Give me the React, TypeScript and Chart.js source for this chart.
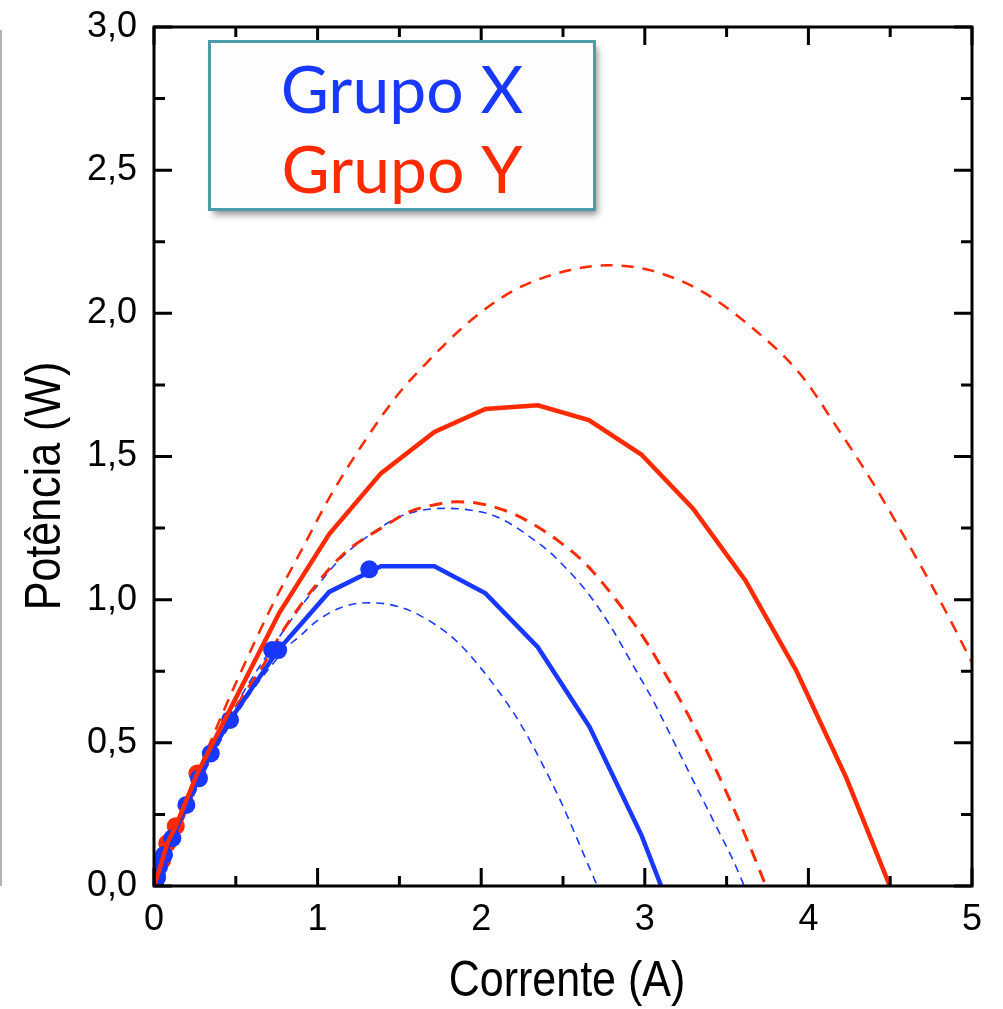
import React, { useEffect, useRef } from "react";
import { Chart, registerables } from "chart.js";

Chart.register(...registerables);

// ---- Data ----
// Grupo X measured curve (solid blue)
const blueLineI = [0, 0.061, 0.112, 0.198, 0.275, 0.347, 0.465, 0.759, 1.071, 1.387, 1.714, 2.026, 2.346, 2.662, 2.98, 3.1];
const blueLineP = [0, 0.108, 0.167, 0.283, 0.376, 0.463, 0.58, 0.824, 1.027, 1.117, 1.117, 1.022, 0.834, 0.556, 0.177, 0];
// Grupo X markers
const blueMarkI = [0.006, 0.018, 0.031, 0.061, 0.112, 0.198, 0.275, 0.347, 0.465, 0.722, 0.759, 1.316];
const blueMarkP = [0.007, 0.028, 0.067, 0.108, 0.167, 0.283, 0.376, 0.463, 0.58, 0.824, 0.824, 1.106];
// Grupo Y measured curve (solid red)
const redLineI = [0, 0.04, 0.081, 0.133, 0.265, 0.765, 1.071, 1.387, 1.714, 2.026, 2.346, 2.658, 2.979, 3.294, 3.614, 3.927, 4.233, 4.498];
const redLineP = [0, 0.07, 0.149, 0.209, 0.393, 0.953, 1.229, 1.441, 1.586, 1.666, 1.679, 1.627, 1.507, 1.319, 1.068, 0.751, 0.376, 0];
// Grupo Y markers
const redMarkI = [0.02, 0.05, 0.081, 0.133, 0.265];
const redMarkP = [0.035, 0.09, 0.149, 0.209, 0.393];
// Dashed curves
const redBigI = [0, 0.2, 0.367, 0.5, 0.714, 0.908, 1.081, 1.265, 1.479, 1.673, 1.938, 2.203, 2.499, 2.774, 3.029, 3.335, 3.662, 3.947, 4.172, 4.396, 4.621, 4.835, 5.0];
const redBigP = [0, 0.3, 0.533, 0.708, 0.97, 1.18, 1.365, 1.534, 1.708, 1.831, 1.976, 2.081, 2.145, 2.168, 2.151, 2.081, 1.947, 1.79, 1.604, 1.406, 1.185, 0.964, 0.78];
const redSmallI = [0, 0.3, 0.54, 0.663, 0.765, 0.908, 1.152, 1.418, 1.561, 1.703, 1.846, 1.977, 2.111, 2.214, 2.346, 2.479, 2.621, 2.744, 2.846, 2.948, 3.029, 3.111, 3.193, 3.274, 3.356, 3.438, 3.519, 3.58, 3.641, 3.702, 3.74];
const redSmallP = [0, 0.4, 0.661, 0.766, 0.87, 0.99, 1.156, 1.26, 1.307, 1.33, 1.342, 1.337, 1.318, 1.295, 1.254, 1.202, 1.135, 1.057, 0.983, 0.905, 0.835, 0.755, 0.673, 0.588, 0.497, 0.402, 0.302, 0.222, 0.14, 0.055, 0];
const blueBigI = [0, 0.3, 0.52, 0.684, 0.867, 1.01, 1.152, 1.377, 1.499, 1.642, 1.805, 1.928, 2.07, 2.193, 2.295, 2.417, 2.52, 2.621, 2.713, 2.805, 2.887, 2.968, 3.05, 3.132, 3.213, 3.294, 3.376, 3.458, 3.539, 3.608];
const blueBigP = [0, 0.4, 0.65, 0.8, 0.952, 1.057, 1.15, 1.249, 1.289, 1.313, 1.319, 1.313, 1.295, 1.26, 1.22, 1.167, 1.109, 1.045, 0.975, 0.894, 0.812, 0.731, 0.649, 0.556, 0.463, 0.37, 0.277, 0.184, 0.091, 0];
const blueSmallI = [0, 0.4, 0.806, 0.887, 0.99, 1.132, 1.296, 1.458, 1.622, 1.846, 1.999, 2.132, 2.234, 2.315, 2.397, 2.479, 2.56, 2.642, 2.71];
const blueSmallP = [0, 0.5, 0.83, 0.87, 0.923, 0.97, 0.989, 0.981, 0.946, 0.857, 0.76, 0.66, 0.572, 0.49, 0.4, 0.305, 0.2, 0.09, 0];

const legendLabels = ["Grupo X", "Grupo Y"];
const xTitle = "Corrente (A)";
const yTitle = "Potência (W)";

const BLUE = "#1838ff";
const RED = "#ff2a00";

const pts = (xs: number[], ys: number[]) => xs.map((x, i) => ({ x, y: ys[i] }));

const decorPlugin = {
  id: "decor",
  beforeDraw(chart: any) {
    const ctx = chart.ctx;
    ctx.save();
    ctx.fillStyle = "#ffffff";
    ctx.fillRect(0, 0, chart.width, chart.height);
    // thin grey edge line at far left (as in the reference crop)
    ctx.strokeStyle = "#9a9a9a";
    ctx.lineWidth = 1.5;
    ctx.beginPath();
    ctx.moveTo(1, 30);
    ctx.lineTo(1, 886);
    ctx.stroke();
    ctx.restore();
  },
  afterDraw(chart: any) {
    const ctx = chart.ctx;
    const { left, right, top, bottom } = chart.chartArea;
    const xs = chart.scales.x;
    const ys = chart.scales.y;
    ctx.save();
    ctx.strokeStyle = "#000";
    ctx.lineWidth = 3;
    ctx.lineCap = "butt";
    ctx.strokeRect(left, top, right - left, bottom - top);
    ctx.beginPath();
    for (let v = 0; v <= 5.0001; v += 0.5) {
      const px = xs.getPixelForValue(v);
      const len = Math.abs(v - Math.round(v)) < 1e-6 ? 18 : 10;
      ctx.moveTo(px, bottom);
      ctx.lineTo(px, bottom - len);
      ctx.moveTo(px, top);
      ctx.lineTo(px, top + len);
    }
    for (let v = 0; v <= 3.0001; v += 0.25) {
      const py = ys.getPixelForValue(v);
      const major = Math.abs(v * 2 - Math.round(v * 2)) < 1e-6;
      const len = major ? 18 : 11;
      ctx.moveTo(left, py);
      ctx.lineTo(left + len, py);
      ctx.moveTo(right, py);
      ctx.lineTo(right - len, py);
    }
    ctx.stroke();

    // axis titles
    ctx.fillStyle = "#000";
    ctx.font = '50px "Liberation Sans", Arial, sans-serif';
    ctx.textAlign = "center";
    ctx.textBaseline = "alphabetic";
    ctx.save();
    ctx.translate((left + right) / 2 + 4, 996);
    ctx.scale(0.86, 1);
    ctx.fillText(xTitle, 0, 0);
    ctx.restore();
    ctx.save();
    ctx.translate(60, 486);
    ctx.rotate(-Math.PI / 2);
    ctx.scale(0.86, 1);
    ctx.fillText(yTitle, 0, 0);
    ctx.restore();

    // legend box
    const bx = 209.5, by = 41.5, bw = 385, bh = 168;
    ctx.save();
    ctx.shadowColor = "rgba(0,0,0,0.45)";
    ctx.shadowBlur = 7;
    ctx.shadowOffsetX = 3;
    ctx.shadowOffsetY = 5;
    ctx.fillStyle = "#fdfdfd";
    ctx.fillRect(bx, by, bw, bh);
    ctx.restore();
    ctx.strokeStyle = "#4b9baa";
    ctx.lineWidth = 3;
    ctx.strokeRect(bx, by, bw, bh);
    ctx.font = '66px Lato, "Open Sans", sans-serif';
    ctx.textAlign = "center";
    ctx.fillStyle = BLUE;
    ctx.fillText(legendLabels[0], bx + bw / 2, 113);
    ctx.fillStyle = RED;
    ctx.fillText(legendLabels[1], bx + bw / 2, 193);
    ctx.restore();
  },
};

export default function App() {
  const canvasRef = useRef<HTMLCanvasElement | null>(null);

  useEffect(() => {
    document.body.style.margin = "0";
    const canvas = canvasRef.current;
    if (!canvas) return;
    const chart = new Chart(canvas, {
      type: "scatter",
      data: {
        datasets: [
          {
            label: "Grupo Y",
            data: pts(redLineI, redLineP),
            showLine: true,
            borderColor: RED,
            borderWidth: 4.5,
            pointRadius: 0,
            tension: 0,
          },
          {
            label: "Grupo X markers",
            data: pts(blueMarkI, blueMarkP),
            showLine: false,
            backgroundColor: BLUE,
            borderColor: BLUE,
            borderWidth: 0,
            pointRadius: 9,
          },
          {
            label: "Grupo X",
            data: pts(blueLineI, blueLineP),
            showLine: true,
            borderColor: BLUE,
            borderWidth: 4.5,
            pointRadius: 0,
            tension: 0,
          },
          {
            label: "Grupo Y markers",
            data: pts(redMarkI, redMarkP),
            showLine: false,
            backgroundColor: RED,
            borderColor: RED,
            borderWidth: 0,
            pointRadius: 9,
          },
          {
            label: "Y fit big",
            data: pts(redBigI, redBigP),
            showLine: true,
            borderColor: RED,
            borderWidth: 2.5,
            borderDash: [12, 9],
            pointRadius: 0,
            cubicInterpolationMode: "monotone",
          },
          {
            label: "Y fit small",
            data: pts(redSmallI, redSmallP),
            showLine: true,
            borderColor: RED,
            borderWidth: 3,
            borderDash: [13, 9],
            pointRadius: 0,
            cubicInterpolationMode: "monotone",
          },
          {
            label: "X fit big",
            data: pts(blueBigI, blueBigP),
            showLine: true,
            borderColor: BLUE,
            borderWidth: 1.6,
            borderDash: [8, 6],
            pointRadius: 0,
            cubicInterpolationMode: "monotone",
          },
          {
            label: "X fit small",
            data: pts(blueSmallI, blueSmallP),
            showLine: true,
            borderColor: BLUE,
            borderWidth: 1.6,
            borderDash: [8, 6],
            pointRadius: 0,
            cubicInterpolationMode: "monotone",
          },
        ],
      },
      options: {
        animation: false,
        responsive: false,
        devicePixelRatio: 1,
        layout: { padding: { top: 27, right: 31, left: 0, bottom: 0 } },
        plugins: { legend: { display: false }, tooltip: { enabled: false } },
        scales: {
          x: {
            type: "linear",
            min: 0,
            max: 5,
            ticks: {
              stepSize: 1,
              color: "#000",
              padding: 12,
              font: { family: '"Liberation Sans", Arial, sans-serif', size: 36 },
              callback: (v: any) => String(v),
            },
            grid: { display: false, drawTicks: false },
            border: { display: false },
            afterFit: (s: any) => {
              s.height = 123;
              s.paddingLeft = 0;
              s.paddingRight = 0;
            },
          },
          y: {
            type: "linear",
            min: 0,
            max: 3,
            ticks: {
              stepSize: 0.5,
              color: "#000",
              padding: 17,
              font: { family: '"Liberation Sans", Arial, sans-serif', size: 36 },
              callback: (v: any) => Number(v).toFixed(1).replace(".", ","),
            },
            grid: { display: false, drawTicks: false },
            border: { display: false },
            afterFit: (s: any) => {
              s.width = 154;
              s.paddingTop = 0;
              s.paddingBottom = 0;
            },
          },
        },
      },
      plugins: [decorPlugin],
    } as any);
    return () => chart.destroy();
  }, []);

  return (
    <div style={{ position: "absolute", left: 0, top: 0, width: 1003, height: 1009, overflow: "hidden" }}>
      <canvas ref={canvasRef} width={1003} height={1009} style={{ display: "block" }} />
    </div>
  );
}
